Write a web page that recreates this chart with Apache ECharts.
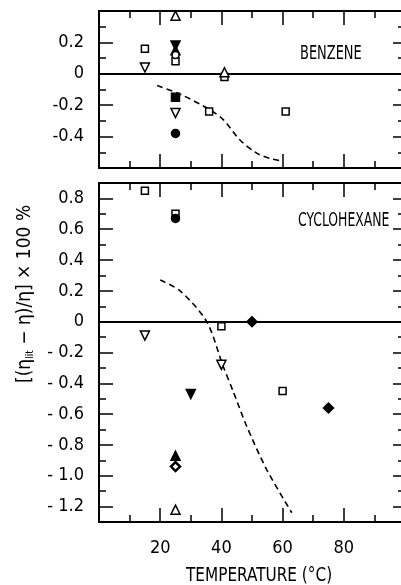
<!DOCTYPE html>
<html>
<head>
<meta charset="utf-8">
<script src="https://cdn.jsdelivr.net/npm/echarts@6/dist/echarts.min.js"></script>
<style>
html,body{margin:0;padding:0;background:#fff;}
#chart{width:401px;height:585px;}
</style>
</head>
<body>
<div id="chart"></div>
<script>
// benzene panel (top)
var benzeneOpenSquare = [[15, 0.16], [25, 0.08], [36, -0.24], [41, -0.02], [61, -0.24]];
var benzeneOpenDown = [[15, 0.04], [25, -0.25]];
var benzeneOpenUp = [[25, 0.37], [41, 0.01]];
var benzeneFilledDown = [[25, 0.18]];
var benzeneFilledUp = [[25, 0.15]];
var benzeneOpenCircle = [[25, 0.12]];
var benzeneFilledSquare = [[25, -0.15]];
var benzeneFilledCircle = [[25, -0.38]];
var benzeneCurve = [[19, -0.075], [26.5, -0.13], [35, -0.215], [40.5, -0.29], [46, -0.42], [51.5, -0.505], [56, -0.54], [59.7, -0.555]];

// cyclohexane panel (bottom)
var cycloOpenSquare = [[15, 0.85], [25, 0.70], [40, -0.03], [60, -0.45]];
var cycloFilledCircle = [[25, 0.67]];
var cycloOpenDown = [[15, -0.09], [40, -0.28]];
var cycloFilledDown = [[30, -0.47]];
var cycloFilledDiamond = [[50, 0], [75, -0.56]];
var cycloFilledUp = [[25, -0.87]];
var cycloHalfDiamond = [[25, -0.94]];
var cycloOpenUp = [[25, -1.22]];
var cycloCurve = [[20, 0.27], [26.5, 0.2], [35.2, 0], [40.4, -0.28], [44, -0.46], [48.3, -0.68], [54.8, -0.96], [63, -1.24]];

// ticks
var cycloYTicks = [-1.2, -1.0, -0.8, -0.6, -0.4, -0.2, 0, 0.2, 0.4, 0.6, 0.8];
var cycloYMinor = [-1.1, -0.9, -0.7, -0.5, -0.3, -0.1, 0.1, 0.3, 0.5, 0.7];

var FONT = '"DejaVu Sans Condensed", "Liberation Sans Narrow", sans-serif';
var BLACK = { color: '#000', width: 1.5 };
var chart = echarts.init(document.getElementById('chart'));

function xAx(grid, pos, labels) {
    return {
        type: 'value', gridIndex: grid, position: pos, min: 0, max: 100, interval: 20,
        axisLine: { show: true, onZero: false, lineStyle: { color: '#000', width: 2 } },
        axisTick: { show: true, inside: true, length: 14, lineStyle: BLACK },
        minorTick: { show: true, splitNumber: 2, length: 7, lineStyle: BLACK },
        splitLine: { show: false },
        axisLabel: { show: labels, showMinLabel: false, showMaxLabel: false, margin: 17, color: '#000', fontSize: 18, fontFamily: FONT }
    };
}

// extra y axis on the bottom panel, ticks only
function cycloTickAxis(pos, ticks, len, line) {
    return {
        type: 'value', gridIndex: 1, position: pos, min: -1.3, max: 0.9,
        axisLine: { show: line, onZero: false, lineStyle: { color: '#000', width: 2 } },
        axisTick: { show: true, inside: true, length: len, customValues: ticks, lineStyle: BLACK },
        splitLine: { show: false }, axisLabel: { show: false }
    };
}

function mark(sym, size, filled, rot, data, xi, yi, bw) {
    return {
        type: 'scatter', xAxisIndex: xi, yAxisIndex: yi, data: data,
        symbol: sym, symbolSize: size, symbolRotate: rot || 0,
        itemStyle: { color: filled ? '#000' : '#fff', borderColor: '#000', borderWidth: bw || 1.5, opacity: 1 },
        z: 5
    };
}

function curve(data, xi, yi) {
    return {
        type: 'line', xAxisIndex: xi, yAxisIndex: yi, data: data, smooth: 0.3,
        showSymbol: false, symbol: 'none',
        lineStyle: { color: '#000', width: 1.6, type: [6, 4] }
    };
}

function zeroLine(xi, yi) {
    return {
        type: 'line', xAxisIndex: xi, yAxisIndex: yi, data: [],
        markLine: {
            silent: true, symbol: 'none', label: { show: false },
            lineStyle: { color: '#000', width: 1.8, type: 'solid' },
            data: [{ yAxis: 0 }]
        }
    };
}

var option = {
    animation: false,
    backgroundColor: '#fff',
    grid: [
        { left: 99, top: 11, right: -4, height: 157, containLabel: false, outerBoundsMode: 'none' },
        { left: 99, top: 183, right: -4, height: 339, containLabel: false, outerBoundsMode: 'none' }
    ],
    xAxis: [xAx(0, 'bottom', false), xAx(0, 'top', false), xAx(1, 'bottom', true), xAx(1, 'top', false)],
    yAxis: [
        {
            type: 'value', gridIndex: 0, position: 'left', min: -0.6, max: 0.4, interval: 0.2,
            axisLine: { show: true, onZero: false, lineStyle: { color: '#000', width: 2 } },
            axisTick: { show: true, inside: true, length: 14, lineStyle: BLACK },
            minorTick: { show: true, splitNumber: 2, length: 7, lineStyle: BLACK },
            splitLine: { show: false },
            axisLabel: {
                showMinLabel: false, showMaxLabel: false, margin: 15, color: '#000', fontSize: 18, fontFamily: FONT,
                formatter: function (v) { return Math.abs(v) < 1e-9 ? '0' : (v < 0 ? '-' : '') + Math.abs(v).toFixed(1); }
            }
        },
        {
            type: 'value', gridIndex: 0, position: 'right', min: -0.6, max: 0.4, interval: 0.2,
            axisLine: { show: true, onZero: false, lineStyle: { color: '#000', width: 2 } },
            axisTick: { show: true, inside: true, length: 12, lineStyle: BLACK },
            minorTick: { show: true, splitNumber: 2, length: 7, lineStyle: BLACK },
            splitLine: { show: false }, axisLabel: { show: false }
        },
        {
            type: 'value', gridIndex: 1, position: 'left', min: -1.3, max: 0.9,
            axisLine: { show: true, onZero: false, lineStyle: { color: '#000', width: 2 } },
            axisTick: { show: true, inside: true, length: 14, customValues: cycloYTicks, lineStyle: BLACK },
            splitLine: { show: false },
            axisLabel: {
                customValues: cycloYTicks, margin: 15, color: '#000', fontSize: 18, fontFamily: FONT,
                formatter: function (v) { return Math.abs(v) < 1e-9 ? '0' : (v < 0 ? '- ' : '') + Math.abs(v).toFixed(1); }
            }
        },
        cycloTickAxis('left', cycloYMinor, 7, false),
        cycloTickAxis('right', cycloYTicks, 12, true),
        cycloTickAxis('right', cycloYMinor, 7, false)
    ],
    series: [
        zeroLine(0, 0),
        curve(benzeneCurve, 0, 0),
        mark('rect', 7, false, 0, benzeneOpenSquare, 0, 0),
        mark('triangle', 9, false, 180, benzeneOpenDown, 0, 0),
        mark('triangle', 9, false, 0, benzeneOpenUp, 0, 0),
        mark('triangle', 9, true, 180, benzeneFilledDown, 0, 0),
        mark('triangle', 9, true, 0, benzeneFilledUp, 0, 0),
        mark('circle', 7, false, 0, benzeneOpenCircle, 0, 0),
        mark('rect', 8, true, 0, benzeneFilledSquare, 0, 0),
        mark('circle', 8, true, 0, benzeneFilledCircle, 0, 0),

        zeroLine(2, 2),
        curve(cycloCurve, 2, 2),
        mark('rect', 7, false, 0, cycloOpenSquare, 2, 2),
        mark('circle', 8, true, 0, cycloFilledCircle, 2, 2),
        mark('triangle', 9, false, 180, cycloOpenDown, 2, 2),
        mark('triangle', 9, true, 180, cycloFilledDown, 2, 2),
        mark('diamond', 10, true, 0, cycloFilledDiamond, 2, 2),
        mark('triangle', 9, true, 0, cycloFilledUp, 2, 2),
        mark('diamond', 9, false, 0, cycloHalfDiamond, 2, 2, 2.5),
        mark('triangle', 9, false, 0, cycloOpenUp, 2, 2)
    ],
    graphic: [
        { type: 'text', x: 300, y: 44, scaleX: 0.72, style: { text: 'BENZENE', fontSize: 20, fontFamily: FONT, fill: '#000' } },
        { type: 'text', x: 298, y: 211, scaleX: 0.69, style: { text: 'CYCLOHEXANE', fontSize: 20, fontFamily: FONT, fill: '#000' } },
        { type: 'text', x: 186, y: 566, scaleX: 0.85, style: { text: 'TEMPERATURE (°C)', fontSize: 20, fontFamily: FONT, fill: '#000' } },
        {
            type: 'text', x: 16, y: 383, rotation: Math.PI / 2,
            style: {
                text: '{a|[(η}{s|lit}{a| − η)/η] × 100 %}',
                fill: '#000',
                rich: {
                    a: { fontSize: 19, fontFamily: FONT, fill: '#000' },
                    s: { fontSize: 10, fontFamily: FONT, fill: '#000', verticalAlign: 'bottom', padding: [9, 0, 0, 0] }
                }
            }
        }
    ]
};
chart.setOption(option);
</script>
</body>
</html>
